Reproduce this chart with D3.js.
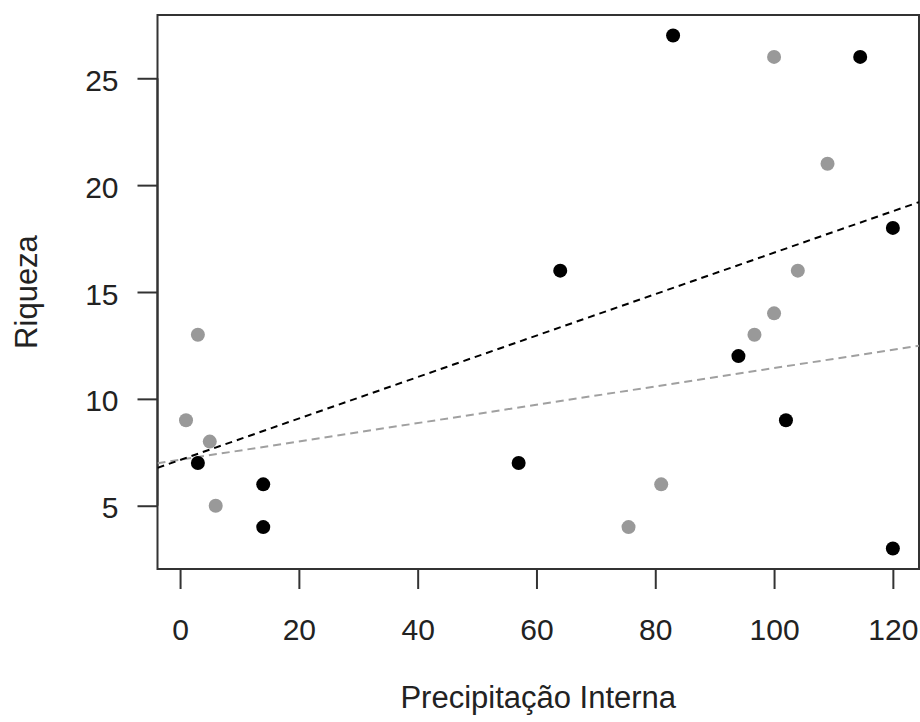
<!DOCTYPE html>
<html>
<head>
<meta charset="utf-8">
<script src="https://cdn.jsdelivr.net/npm/d3@7"></script>
<style>
  html, body { margin: 0; padding: 0; background: #fff; }
  svg { display: block; }
  text { font-family: "Liberation Sans", Arial, sans-serif; fill: #222; }
</style>
</head>
<body>
<svg id="chart" width="920" height="722"></svg>
<script>
// Grupo 1 (preto)
const blackX = [3, 14, 14, 57, 64, 83, 94, 102, 114.5, 120, 120];
const blackY = [7, 6, 4, 7, 16, 27, 12, 9, 26, 18, 3];
// Grupo 2 (cinza)
const grayX = [1, 3, 5, 6, 75.5, 81, 96.7, 100, 104, 100, 109];
const grayY = [9, 13, 8, 5, 4, 6, 13, 14, 16, 26, 21];
// Retas ajustadas: [intercepto, inclinação]
const blackFit = [7.14, 0.097];
const grayFit = [7.15, 0.0429];
// Marcas dos eixos
const xTicks = [0, 20, 40, 60, 80, 100, 120];
const yTicks = [5, 10, 15, 20, 25];
const xLabel = "Precipitação Interna";
const yLabel = "Riqueza";

const svg = d3.select("#chart");
const plot = { left: 157.5, right: 919, top: 15, bottom: 569 };
const fontFamily = '"Liberation Sans", Arial, sans-serif';

const x = d3.scaleLinear().domain([-3.8, 124.4]).range([plot.left, plot.right]);
const y = d3.scaleLinear().domain([2.04, 27.96]).range([plot.bottom, plot.top]);

svg.append("defs").append("clipPath").attr("id", "clip")
  .append("rect")
  .attr("x", plot.left).attr("y", plot.top)
  .attr("width", plot.right - plot.left).attr("height", plot.bottom - plot.top);

// Eixo X
const xAxis = svg.append("g")
  .attr("transform", `translate(0,${plot.bottom})`)
  .call(d3.axisBottom(x).tickValues(xTicks).tickSize(20).tickPadding(30).tickSizeOuter(0));
xAxis.select(".domain")
  .attr("d", `M${x(xTicks[0])},0H${x(xTicks[xTicks.length - 1])}`)
  .attr("stroke", "#333").attr("stroke-width", 2);
xAxis.selectAll(".tick line").attr("stroke", "#333").attr("stroke-width", 2);
xAxis.selectAll(".tick text")
  .attr("font-size", 30).attr("fill", "#222")
  .style("font-family", fontFamily);

// Eixo Y
const yAxis = svg.append("g")
  .attr("transform", `translate(${plot.left},0)`)
  .call(d3.axisLeft(y).tickValues(yTicks).tickSize(20).tickPadding(19).tickSizeOuter(0));
yAxis.select(".domain")
  .attr("d", `M0,${y(yTicks[0])}V${y(yTicks[yTicks.length - 1])}`)
  .attr("stroke", "#333").attr("stroke-width", 2);
yAxis.selectAll(".tick line").attr("stroke", "#333").attr("stroke-width", 2);
yAxis.selectAll(".tick text")
  .attr("font-size", 30).attr("fill", "#222").attr("dy", "0.4em")
  .style("font-family", fontFamily);

// Caixa do gráfico
svg.append("rect")
  .attr("x", plot.left).attr("y", plot.top)
  .attr("width", plot.right - plot.left).attr("height", plot.bottom - plot.top)
  .attr("fill", "none").attr("stroke", "#333").attr("stroke-width", 2);

// Títulos dos eixos
svg.append("text")
  .attr("x", (plot.left + plot.right) / 2).attr("y", 708)
  .attr("text-anchor", "middle").attr("font-size", 31)
  .text(xLabel);
svg.append("text")
  .attr("transform", `translate(37,${(plot.top + plot.bottom) / 2}) rotate(-90)`)
  .attr("text-anchor", "middle").attr("font-size", 31)
  .text(yLabel);

// Retas de regressão (abline sobre toda a largura do painel)
const fitLine = (fit) => {
  const d0 = x.domain()[0], d1 = x.domain()[1];
  return [[d0, fit[0] + fit[1] * d0], [d1, fit[0] + fit[1] * d1]];
};
const line = d3.line().x(d => x(d[0])).y(d => y(d[1]));
const lines = svg.append("g").attr("clip-path", "url(#clip)");
lines.append("path").attr("d", line(fitLine(grayFit)))
  .attr("fill", "none").attr("stroke", "#a0a0a0").attr("stroke-width", 2)
  .attr("stroke-dasharray", "8,5");
lines.append("path").attr("d", line(fitLine(blackFit)))
  .attr("fill", "none").attr("stroke", "#000").attr("stroke-width", 2)
  .attr("stroke-dasharray", "7,5");

// Pontos
const pts = svg.append("g");
pts.selectAll("circle.gray")
  .data(d3.zip(grayX, grayY))
  .join("circle").attr("class", "gray")
  .attr("cx", d => x(d[0])).attr("cy", d => y(d[1])).attr("r", 7)
  .attr("fill", "#999");
pts.selectAll("circle.black")
  .data(d3.zip(blackX, blackY))
  .join("circle").attr("class", "black")
  .attr("cx", d => x(d[0])).attr("cy", d => y(d[1])).attr("r", 7)
  .attr("fill", "#000");
</script>
</body>
</html>
